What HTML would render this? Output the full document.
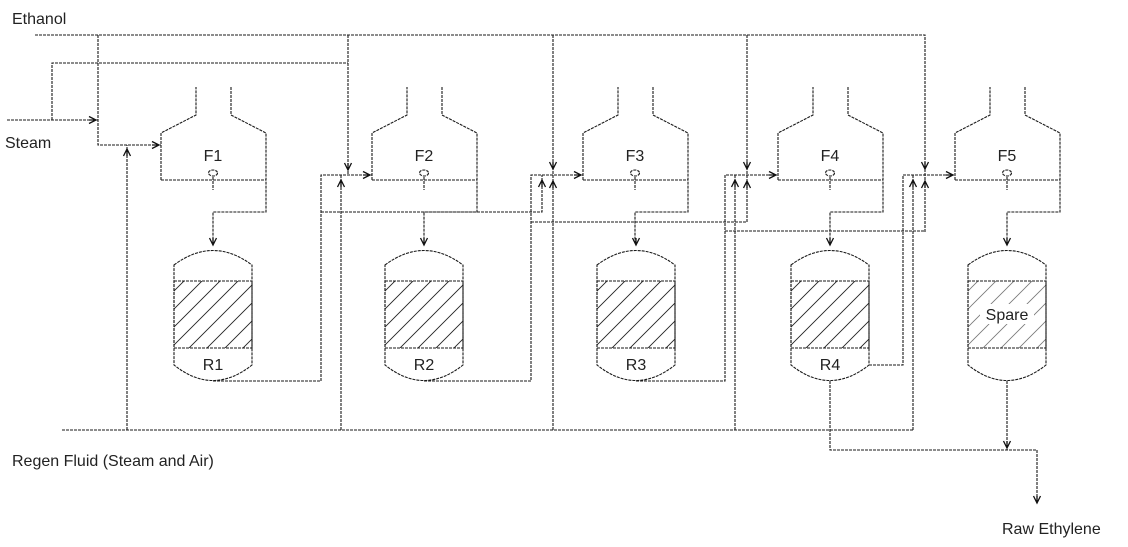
<!DOCTYPE html>
<html><head><meta charset="utf-8"><style>
html,body{margin:0;padding:0;background:#fff;}
svg{display:block;}
text{font-family:"Liberation Sans",sans-serif;fill:#222;}
</style></head><body>
<svg width="1128" height="547" viewBox="0 0 1128 547" xmlns="http://www.w3.org/2000/svg">
<defs>
<pattern id="h" patternUnits="userSpaceOnUse" width="18" height="18">
<path d="M-2,2 L2,-2 M0,18 L18,0 M16,20 L20,16" stroke="#222" stroke-width="0.9"/>
</pattern>
<pattern id="h2" patternUnits="userSpaceOnUse" width="18" height="18">
<path d="M-2,2 L2,-2 M0,18 L18,0 M16,20 L20,16" stroke="#777" stroke-width="0.8"/>
</pattern>
<path id="ad" d="M-3.5,-7 L0,0 L3.5,-7 M0,-7 L0,0" fill="none" stroke="#111" stroke-width="1.3"/>
<g id="fur" fill="none" stroke="#1a1a1a" stroke-width="1.1" stroke-dasharray="3 1">
<path d="M0,180 L0,133 L35,115 L35,87 M70,87 L70,115 L105,133 L105,212 L52,212 L52,243 M0,180 L105,180 M52,177 L52,190"/>
<ellipse cx="52" cy="173" rx="4.5" ry="3"/>
</g>
<g id="rea" fill="none" stroke="#1a1a1a" stroke-width="1.1" stroke-dasharray="3 1">
<path d="M-39,281 H39 V348 H-39 Z" fill="url(#h)"/>
<path d="M-39,265 Q0,236 39,265 L39,365 Q0,396 -39,365 Z"/>
</g>
<g id="rea2" fill="none" stroke="#1a1a1a" stroke-width="1.1" stroke-dasharray="3 1">
<path d="M-39,281 H39 V348 H-39 Z" fill="url(#h2)"/>
<path d="M-39,265 Q0,236 39,265 L39,365 Q0,396 -39,365 Z"/>
</g>
</defs>
<g fill="none" stroke="#1a1a1a" stroke-width="1.1" stroke-dasharray="3 1">
<path d="M35,35 H925 V232 M747,35 V222 M553,35 V430 M348,35 V175 M98,35 V145 H161"/>
<path d="M7,120 H98 M52,120 V63 H348"/>
<path d="M62,430 H913 M127,430 V145 M341,430 V175 M735,430 V175 M913,430 V175"/>
<path d="M213,381 H321 V175 H372 M321,212 H542 V175"/>
<path d="M424,381 H531 V175 H583 M531,222 H747"/>
<path d="M636,381 H725 V175 H778 M725,231 H925"/>
<path d="M869,365 H903 V175 H955 M830,381 V450 H1037 V502 M1007,381 V450"/>
</g>
<use href="#fur" x="161"/><use href="#fur" x="372"/><use href="#fur" x="583"/><use href="#fur" x="778"/><use href="#fur" x="955"/>
<use href="#rea" x="213"/><use href="#rea" x="424"/><use href="#rea" x="636"/><use href="#rea" x="830"/><use href="#rea2" x="1007"/>
<rect x="980" y="304" width="54" height="20" fill="#fff"/>
<use href="#ad" transform="translate(96,120) rotate(-90)"/>
<use href="#ad" transform="translate(159,145) rotate(-90)"/>
<use href="#ad" transform="translate(127,149) rotate(180)"/>
<use href="#ad" transform="translate(348,170)"/>
<use href="#ad" transform="translate(341,180) rotate(180)"/>
<use href="#ad" transform="translate(370,175) rotate(-90)"/>
<use href="#ad" transform="translate(553,169)"/>
<use href="#ad" transform="translate(542,180) rotate(180)"/>
<use href="#ad" transform="translate(553,181) rotate(180)"/>
<use href="#ad" transform="translate(581,175) rotate(-90)"/>
<use href="#ad" transform="translate(747,169)"/>
<use href="#ad" transform="translate(735,180) rotate(180)"/>
<use href="#ad" transform="translate(747,181) rotate(180)"/>
<use href="#ad" transform="translate(776,175) rotate(-90)"/>
<use href="#ad" transform="translate(925,169)"/>
<use href="#ad" transform="translate(913,180) rotate(180)"/>
<use href="#ad" transform="translate(925,181) rotate(180)"/>
<use href="#ad" transform="translate(953,175) rotate(-90)"/>
<use href="#ad" transform="translate(213,245)"/>
<use href="#ad" transform="translate(424,245)"/>
<use href="#ad" transform="translate(636,245)"/>
<use href="#ad" transform="translate(830,245)"/>
<use href="#ad" transform="translate(1007,245)"/>
<use href="#ad" transform="translate(1007,448)"/>
<use href="#ad" transform="translate(1037,503)"/>
<g font-size="16">
<text x="12" y="24">Ethanol</text>
<text x="5" y="148">Steam</text>
<text x="12" y="466">Regen Fluid (Steam and Air)</text>
<text x="1002" y="534">Raw Ethylene</text>
<g text-anchor="middle">
<text x="213" y="161">F1</text><text x="424" y="161">F2</text><text x="635" y="161">F3</text><text x="830" y="161">F4</text><text x="1007" y="161">F5</text>
<text x="213" y="370">R1</text><text x="424" y="370">R2</text><text x="636" y="370">R3</text><text x="830" y="370">R4</text>
<text x="1007" y="320">Spare</text>
</g></g>
</svg>
</body></html>
